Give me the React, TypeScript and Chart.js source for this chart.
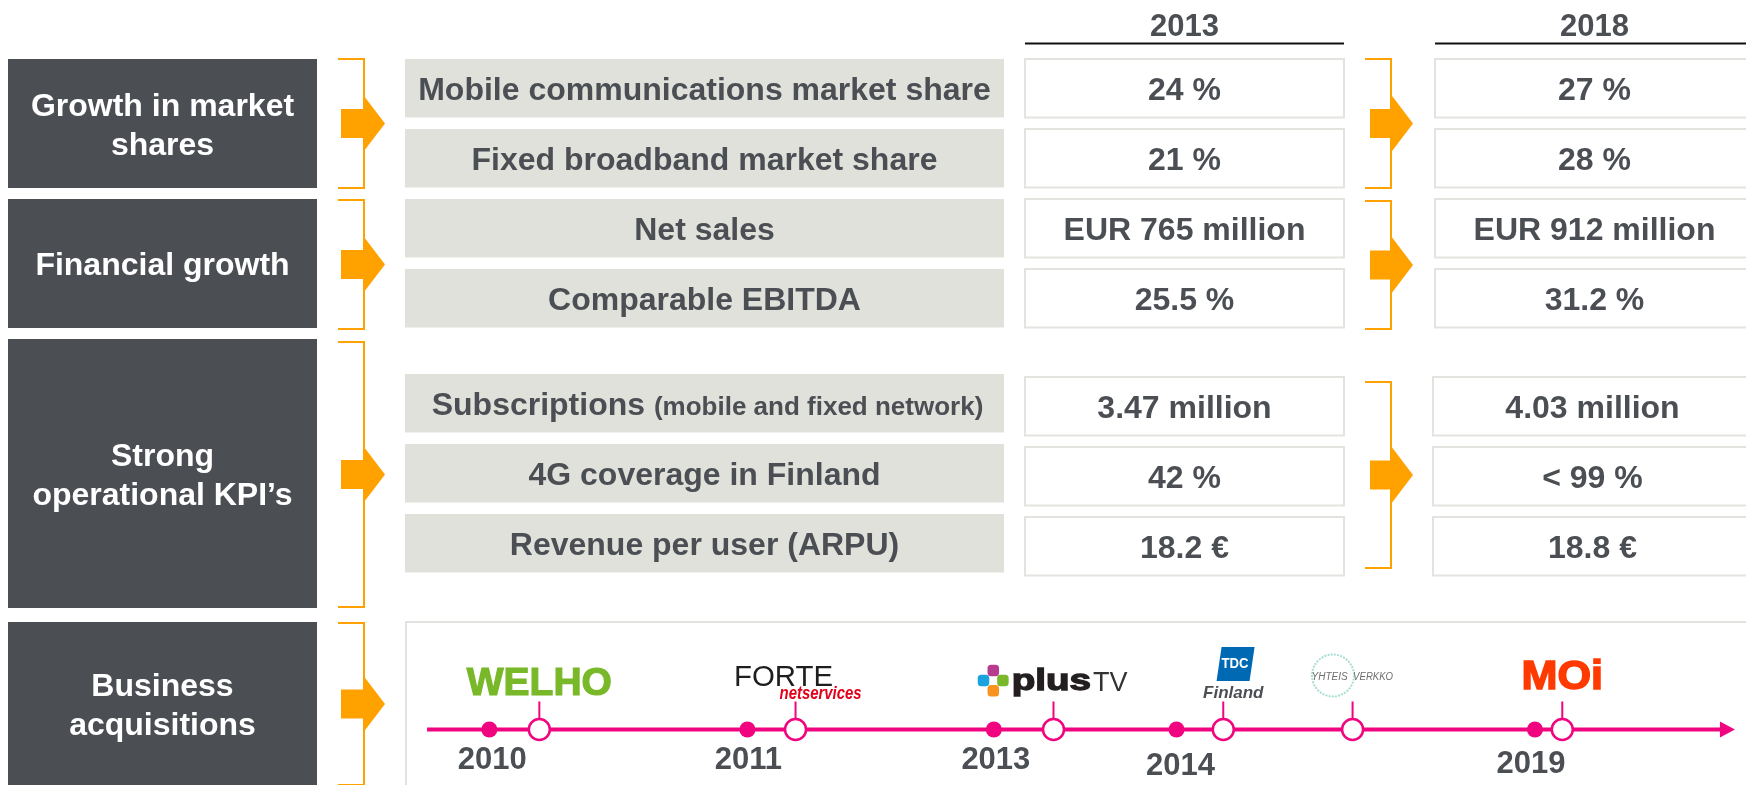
import React, { useEffect, useRef } from 'react';
import { Chart, registerables } from 'chart.js';

Chart.register(...registerables);

// ---------------- data ----------------
const groupLabels: string[][] = [
  ['Growth in market', 'shares'],
  ['Financial growth'],
  ['Strong', 'operational KPI’s'],
  ['Business', 'acquisitions'],
];
const metricLabels = [
  'Mobile communications market share',
  'Fixed broadband market share',
  'Net sales',
  'Comparable EBITDA',
  'Subscriptions',
  '4G coverage in Finland',
  'Revenue per user (ARPU)',
];
const metricNotes = ['', '', '', '', '(mobile and fixed network)', '', ''];
const columnYears = ['2013', '2018'];
const values2013 = ['24 %', '21 %', 'EUR 765 million', '25.5 %', '3.47 million', '42 %', '18.2 €'];
const values2018 = ['27 %', '28 %', 'EUR 912 million', '31.2 %', '4.03 million', '< 99 %', '18.8 €'];

// timeline (schematic position along the acquisitions strip, % of its width)
const timelineYears = ['2010', '2011', '2013', '2014', '2019'];
const yearPositions = [6.22, 25.48, 43.87, 57.5, 84.25];
const acquisitions = ['WELHO', 'FORTE netservices', 'plusTV', 'TDC Finland', 'Yhteisverkko', 'MOi'];
const acquisitionPositions = [9.95, 29.07, 48.32, 60.99, 70.64, 86.29];
const timelineSpan = [1.57, 98.13];

// ---------------- style / layout ----------------
const FONT = '"Liberation Sans", Arial, Helvetica, sans-serif';
const COL = {
  dark: '#4B4F54',
  cell: '#E1E1DC',
  text: '#4B4F54',
  orange: '#FFA200',
  pink: '#F0047F',
  border: '#E3E3DF',
};
const W = 1746;
const H = 785;
const darkBoxes = [[59, 188], [199, 328], [339, 608], [622, 800]];
const leftBrackets = [[59, 188], [200, 329], [342, 607], [623, 785]];
const rowTops = [59, 129, 199, 269, 374, 444, 514];
const rowH = 58.5;
const valueShift = [0, 0, 0, 0, 3, 3, 3];
const col2018X = [1435, 1435, 1435, 1435, 1433, 1433, 1433];
const midBrackets = [[59, 188], [201, 329], [382, 568]];
const yearLabelNudge = [[3, 0], [1, 0], [2, 0], [4, 6], [-4, 4]];

function bracket(ctx: CanvasRenderingContext2D, xTip: number, xLine: number, y0: number, y1: number,
  rectW: number, rectH: number, triLen: number, triH: number) {
  ctx.save();
  ctx.strokeStyle = COL.orange;
  ctx.lineWidth = 2;
  ctx.beginPath();
  ctx.moveTo(xTip, y0);
  ctx.lineTo(xLine, y0);
  ctx.lineTo(xLine, y1);
  ctx.lineTo(xTip, y1);
  ctx.stroke();
  const cy = (y0 + y1) / 2;
  ctx.fillStyle = COL.orange;
  ctx.fillRect(xLine - rectW, cy - rectH / 2, rectW + 0.5, rectH);
  ctx.beginPath();
  ctx.moveTo(xLine, cy - triH / 2);
  ctx.lineTo(xLine + triLen, cy);
  ctx.lineTo(xLine, cy + triH / 2);
  ctx.closePath();
  ctx.fill();
  ctx.restore();
}

function centerLines(ctx: CanvasRenderingContext2D, lines: string[], cx: number, cy: number,
  font: string, color: string, capH = 23, lh = 39) {
  ctx.save();
  ctx.font = font;
  ctx.fillStyle = color;
  ctx.textAlign = 'center';
  ctx.textBaseline = 'alphabetic';
  const total = capH + (lines.length - 1) * lh;
  const first = cy - total / 2 + capH;
  lines.forEach((l, i) => ctx.fillText(l, cx, first + i * lh));
  ctx.restore();
}

function roundRect(ctx: CanvasRenderingContext2D, x: number, y: number, w: number, h: number, r: number) {
  ctx.beginPath();
  ctx.moveTo(x + r, y);
  ctx.lineTo(x + w - r, y);
  ctx.quadraticCurveTo(x + w, y, x + w, y + r);
  ctx.lineTo(x + w, y + h - r);
  ctx.quadraticCurveTo(x + w, y + h, x + w - r, y + h);
  ctx.lineTo(x + r, y + h);
  ctx.quadraticCurveTo(x, y + h, x, y + h - r);
  ctx.lineTo(x, y + r);
  ctx.quadraticCurveTo(x, y, x + r, y);
  ctx.closePath();
}

function drawLogo(ctx: CanvasRenderingContext2D, i: number, cx: number, ly: number) {
  ctx.save();
  ctx.textBaseline = 'alphabetic';
  if (i === 0) {
    ctx.font = `bold 39px ${FONT}`;
    ctx.fillStyle = '#78B829';
    ctx.strokeStyle = '#78B829';
    ctx.lineWidth = 1.2;
    ctx.textAlign = 'center';
    ctx.fillText(acquisitions[0], cx, ly - 34.5);
    ctx.strokeText(acquisitions[0], cx, ly - 34.5);
  } else if (i === 1) {
    const [a, b] = acquisitions[1].split(' ');
    ctx.font = `30px ${FONT}`;
    ctx.fillStyle = '#1E1E1E';
    ctx.textAlign = 'left';
    ctx.fillText(a, cx - 61.5, ly - 43.5, 99);
    ctx.font = `italic bold 18px ${FONT}`;
    ctx.fillStyle = '#E2001A';
    ctx.textAlign = 'right';
    ctx.fillText(b, cx + 66, ly - 31, 82);
  } else if (i === 2) {
    const icx = cx - 60.2;
    const sq = 11.5;
    const parts: [number, number, string][] = [
      [0, -10, '#B83C8E'],
      [-9.8, 0, '#1BA3E0'],
      [9.6, 0, '#79B82A'],
      [0, 10.3, '#F7931E'],
    ];
    parts.forEach(([dx, dy, c]) => {
      ctx.fillStyle = c;
      roundRect(ctx, icx + dx - sq / 2, ly - 49 + dy - sq / 2, sq, sq, 3.5);
      ctx.fill();
    });
    ctx.save();
    ctx.translate(cx - 41.8, ly - 40);
    ctx.scale(1.33, 1);
    ctx.font = `bold 29px ${FONT}`;
    ctx.fillStyle = '#231F20';
    ctx.strokeStyle = '#231F20';
    ctx.lineWidth = 1.3;
    ctx.textAlign = 'left';
    ctx.fillText('plus', 0, 0);
    ctx.strokeText('plus', 0, 0);
    ctx.restore();
    ctx.font = `27px ${FONT}`;
    ctx.fillStyle = '#333333';
    ctx.textAlign = 'left';
    ctx.fillText('TV', cx + 39.5, ly - 39);
  } else if (i === 3) {
    const [a, b] = acquisitions[3].split(' ');
    ctx.fillStyle = '#0069B4';
    ctx.beginPath();
    ctx.moveTo(cx - 1.7, ly - 82.5);
    ctx.lineTo(cx + 31.3, ly - 82.5);
    ctx.lineTo(cx + 26.3, ly - 48.5);
    ctx.lineTo(cx - 6.7, ly - 48.5);
    ctx.closePath();
    ctx.fill();
    ctx.font = `bold 14px ${FONT}`;
    ctx.fillStyle = '#FFFFFF';
    ctx.textAlign = 'center';
    ctx.fillText(a, cx + 11.8, ly - 61.5, 27);
    ctx.font = `italic bold 17px ${FONT}`;
    ctx.fillStyle = '#4B4F54';
    ctx.fillText(b, cx + 10, ly - 32);
  } else if (i === 4) {
    ctx.strokeStyle = '#A8DDD3';
    ctx.lineWidth = 2;
    ctx.setLineDash([2, 1.2]);
    ctx.beginPath();
    ctx.arc(cx - 19.6, ly - 54, 21, 0, Math.PI * 2);
    ctx.stroke();
    ctx.setLineDash([]);
    ctx.font = `italic 10px ${FONT}`;
    ctx.fillStyle = '#6E6E6E';
    ctx.textAlign = 'left';
    ctx.fillText('YHTEIS', cx - 41, ly - 50, 38);
    ctx.fillText('VERKKO', cx + 0.5, ly - 50, 40);
  } else if (i === 5) {
    const g = ctx.createLinearGradient(0, ly - 70, 0, ly - 40);
    g.addColorStop(0, '#FF3A00');
    g.addColorStop(1, '#E2000F');
    ctx.save();
    ctx.translate(cx, ly - 40.2);
    ctx.scale(1.08, 1);
    ctx.font = `bold 40px ${FONT}`;
    ctx.fillStyle = g;
    ctx.strokeStyle = g;
    ctx.lineWidth = 1.5;
    ctx.textAlign = 'center';
    ctx.fillText(acquisitions[5], 0, 0);
    ctx.strokeText(acquisitions[5], 0, 0);
    ctx.restore();
  }
  ctx.restore();
}

const tablePlugin = {
  id: 'tableLayout',
  beforeDraw(chart: any) {
    const ctx: CanvasRenderingContext2D = chart.ctx;
    ctx.save();
    ctx.fillStyle = '#FFFFFF';
    ctx.fillRect(0, 0, W, H);

    // year headers
    const colX = [1025, 1435];
    const colW = 319;
    columnYears.forEach((y, i) => {
      ctx.font = `bold 31px ${FONT}`;
      ctx.fillStyle = COL.text;
      ctx.textAlign = 'center';
      ctx.textBaseline = 'alphabetic';
      ctx.fillText(y, colX[i] + colW / 2, 36);
      ctx.fillStyle = '#111111';
      ctx.fillRect(colX[i], 42.5, i === 1 ? W - colX[i] : colW, 2);
    });

    // dark group boxes
    darkBoxes.forEach(([y0, y1], i) => {
      ctx.fillStyle = COL.dark;
      ctx.fillRect(8, y0, 309, y1 - y0);
      const cy = i === 3 ? 704 : (y0 + y1) / 2;
      centerLines(ctx, groupLabels[i], 162.5, cy, `bold 32px ${FONT}`, '#FFFFFF');
    });

    // left brackets
    leftBrackets.forEach(([y0, y1]) => bracket(ctx, 338, 364, y0, y1, 23, 29, 21, 55));

    // metric cells
    metricLabels.forEach((lab, r) => {
      const y = rowTops[r];
      ctx.fillStyle = COL.cell;
      ctx.fillRect(405, y, 599, rowH);
      const cx = 704.5;
      const cy = y + rowH / 2;
      if (metricNotes[r]) {
        ctx.font = `bold 32px ${FONT}`;
        const w1 = ctx.measureText(lab + ' ').width;
        ctx.font = `bold 26px ${FONT}`;
        const w2 = ctx.measureText(metricNotes[r]).width;
        const x0 = cx - (w1 + w2) / 2 + 3;
        ctx.fillStyle = COL.text;
        ctx.textAlign = 'left';
        ctx.font = `bold 32px ${FONT}`;
        ctx.fillText(lab, x0, cy + 11.5);
        ctx.font = `bold 26px ${FONT}`;
        ctx.fillText(metricNotes[r], x0 + w1, cy + 11.5);
      } else {
        centerLines(ctx, [lab], cx, cy, `bold 32px ${FONT}`, COL.text);
      }
      // value cells
      const vy = y + valueShift[r];
      const cols: [number, string][] = [[1025, values2013[r]], [col2018X[r], values2018[r]]];
      cols.forEach(([x, v]) => {
        ctx.fillStyle = '#FFFFFF';
        ctx.fillRect(x, vy, colW, rowH);
        ctx.strokeStyle = COL.border;
        ctx.lineWidth = 2;
        ctx.strokeRect(x, vy, colW, rowH);
        centerLines(ctx, [v], x + colW / 2, vy + rowH / 2, `bold 32px ${FONT}`, COL.text);
      });
    });

    // middle brackets
    midBrackets.forEach(([y0, y1]) => bracket(ctx, 1365, 1391, y0, y1, 21, 29, 22, 58));

    // acquisitions strip box
    ctx.strokeStyle = COL.border;
    ctx.lineWidth = 2;
    ctx.strokeRect(406, 622, 1400, 220);
    ctx.restore();
  },
  beforeDatasetsDraw(chart: any) {
    const ctx: CanvasRenderingContext2D = chart.ctx;
    const xs = chart.scales.x;
    const ys = chart.scales.y;
    const ly = ys.getPixelForValue(0);
    ctx.save();
    ctx.strokeStyle = COL.pink;
    ctx.lineWidth = 2;
    acquisitionPositions.forEach((p) => {
      const x = xs.getPixelForValue(p);
      ctx.beginPath();
      ctx.moveTo(x, ly - 28);
      ctx.lineTo(x, ly - 10);
      ctx.stroke();
    });
    ctx.restore();
  },
  afterDatasetsDraw(chart: any) {
    const ctx: CanvasRenderingContext2D = chart.ctx;
    const xs = chart.scales.x;
    const ys = chart.scales.y;
    const ly = ys.getPixelForValue(0);
    ctx.save();
    // arrow head
    const xe = xs.getPixelForValue(timelineSpan[1]);
    ctx.fillStyle = COL.pink;
    ctx.beginPath();
    ctx.moveTo(xe - 1, ly - 8);
    ctx.lineTo(xe + 14, ly);
    ctx.lineTo(xe - 1, ly + 8);
    ctx.closePath();
    ctx.fill();
    // year labels
    ctx.font = `bold 31px ${FONT}`;
    ctx.fillStyle = COL.text;
    ctx.textAlign = 'center';
    ctx.textBaseline = 'alphabetic';
    timelineYears.forEach((y, i) => {
      const x = xs.getPixelForValue(yearPositions[i]);
      ctx.fillText(y, x + yearLabelNudge[i][0], ly + 39.5 + yearLabelNudge[i][1]);
    });
    // logos
    acquisitionPositions.forEach((p, i) => drawLogo(ctx, i, xs.getPixelForValue(p), ly));
    ctx.restore();
  },
};

export default function App() {
  const ref = useRef<HTMLCanvasElement | null>(null);
  useEffect(() => {
    const canvas = ref.current;
    if (!canvas) return;
    const chart = new Chart(canvas, {
      type: 'scatter',
      data: {
        datasets: [
          {
            type: 'line',
            label: 'timeline',
            data: timelineSpan.map((x) => ({ x, y: 0 })),
            borderColor: COL.pink,
            borderWidth: 4,
            pointRadius: 0,
            showLine: true,
            fill: false,
            order: 3,
            clip: false,
          } as any,
          {
            label: 'years',
            data: yearPositions.map((x) => ({ x, y: 0 })),
            pointRadius: 8,
            pointHoverRadius: 8,
            backgroundColor: COL.pink,
            borderColor: COL.pink,
            borderWidth: 0,
            order: 2,
            clip: false,
          } as any,
          {
            label: 'acquisitions',
            data: acquisitionPositions.map((x) => ({ x, y: 0 })),
            pointRadius: 10.5,
            pointHoverRadius: 10.5,
            backgroundColor: '#FFFFFF',
            borderColor: COL.pink,
            borderWidth: 2.5,
            order: 1,
            clip: false,
          } as any,
        ],
      },
      options: {
        responsive: false,
        devicePixelRatio: 1,
        animation: false,
        events: [],
        layout: { autoPadding: false, padding: { left: 406, right: 0, top: 700, bottom: 26 } },
        scales: {
          x: { type: 'linear', min: 0, max: 100, display: false },
          y: { type: 'linear', min: -1, max: 1, display: false },
        },
        plugins: {
          legend: { display: false },
          tooltip: { enabled: false },
        },
      } as any,
      plugins: [tablePlugin],
    });
    return () => chart.destroy();
  }, []);
  return (
    <div style={{ position: 'fixed', left: 0, top: 0, width: W, height: H, background: '#fff' }}>
      <canvas ref={ref} width={W} height={H} style={{ width: W, height: H, display: 'block' }} />
    </div>
  );
}
